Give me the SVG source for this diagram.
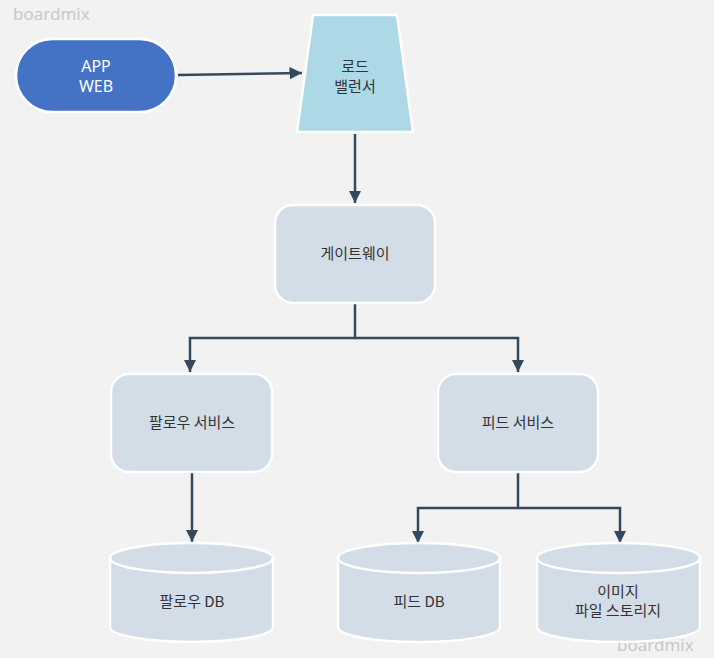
<svg xmlns="http://www.w3.org/2000/svg" width="714" height="658" viewBox="0 0 714 658">
<style>
.box{fill:#d3dde7;stroke:#ffffff;stroke-width:2.5}
.t{font-family:"Noto Sans CJK KR","Noto Sans",sans-serif;font-size:15px;fill:#333333;text-anchor:middle}
.w{font-family:"Noto Sans","Noto Sans CJK KR",sans-serif;font-size:16px;fill:#ffffff;text-anchor:middle}
.wm{font-family:"Noto Sans","Liberation Sans",sans-serif;font-size:17px;fill:#c8c8c8}
.c{fill:none;stroke:#34495e;stroke-width:2.5}
</style>
<defs>
<marker id="ah" viewBox="0 0 10 10" refX="10" refY="5" markerWidth="5" markerHeight="5" markerUnits="strokeWidth" orient="auto">
<path d="M0,0 L10,5 L0,10 z" fill="#34495e"/>
</marker>
</defs>
<rect width="714" height="658" fill="#f2f2f2"/>
<text class="wm" x="13" y="20">boardmix</text>
<text class="wm" x="617" y="651">boardmix</text>

<g id="connectors">
<path class="c" d="M178,75 L302,73" marker-end="url(#ah)"/>
<path class="c" d="M355,134 L355,203" marker-end="url(#ah)"/>
<path class="c" d="M355,304 L355,338 L190,338 L190,372" marker-end="url(#ah)"/>
<path class="c" d="M355,338 L518,338 L518,372" marker-end="url(#ah)"/>
<path class="c" d="M192,473 L192,542" marker-end="url(#ah)"/>
<path class="c" d="M518,473 L518,508 L418,508 L418,543" marker-end="url(#ah)"/>
<path class="c" d="M518,508 L620,508 L620,543" marker-end="url(#ah)"/>
</g>

<g id="app-web">
<rect x="16" y="39" width="160" height="73" rx="36.5" fill="#4472c4" stroke="#ffffff" stroke-width="2.5"/>
<text class="w" x="96" y="72">APP</text>
<text class="w" x="96" y="92">WEB</text>
</g>

<g id="load-balancer">
<polygon points="313,15 397,15 413,132 297,132" fill="#add8e6" stroke="#ffffff" stroke-width="2.5"/>
<text class="t" x="355" y="72">로드</text>
<text class="t" x="355" y="92">밸런서</text>
</g>

<g id="gateway">
<rect class="box" x="275" y="205" width="160" height="98" rx="18"/>
<text class="t" x="355" y="259">게이트웨이</text>
</g>

<g id="follow-service">
<rect class="box" x="111" y="374" width="161" height="98" rx="18"/>
<text class="t" x="192" y="428">팔로우 서비스</text>
</g>

<g id="feed-service">
<rect class="box" x="438" y="374" width="160" height="98" rx="18"/>
<text class="t" x="518" y="428">피드 서비스</text>
</g>

<g id="follow-db">
<path class="box" d="M110,558 A81.5,15 0 0 1 273,558 L273,627 A81.5,15 0 0 1 110,627 Z"/>
<path d="M110,558 A81.5,15 0 0 0 273,558" fill="none" stroke="#ffffff" stroke-width="2.5"/>
<text class="t" x="192" y="607">팔로우 DB</text>
</g>

<g id="feed-db">
<path class="box" d="M338,558 A81,15 0 0 1 500,558 L500,627 A81,15 0 0 1 338,627 Z"/>
<path d="M338,558 A81,15 0 0 0 500,558" fill="none" stroke="#ffffff" stroke-width="2.5"/>
<text class="t" x="419" y="607">피드 DB</text>
</g>

<g id="image-storage">
<path class="box" d="M537,558 A81.5,15 0 0 1 700,558 L700,627 A81.5,15 0 0 1 537,627 Z"/>
<path d="M537,558 A81.5,15 0 0 0 700,558" fill="none" stroke="#ffffff" stroke-width="2.5"/>
<text class="t" x="618" y="597">이미지</text>
<text class="t" x="618" y="616">파일 스토리지</text>
</g>
</svg>
